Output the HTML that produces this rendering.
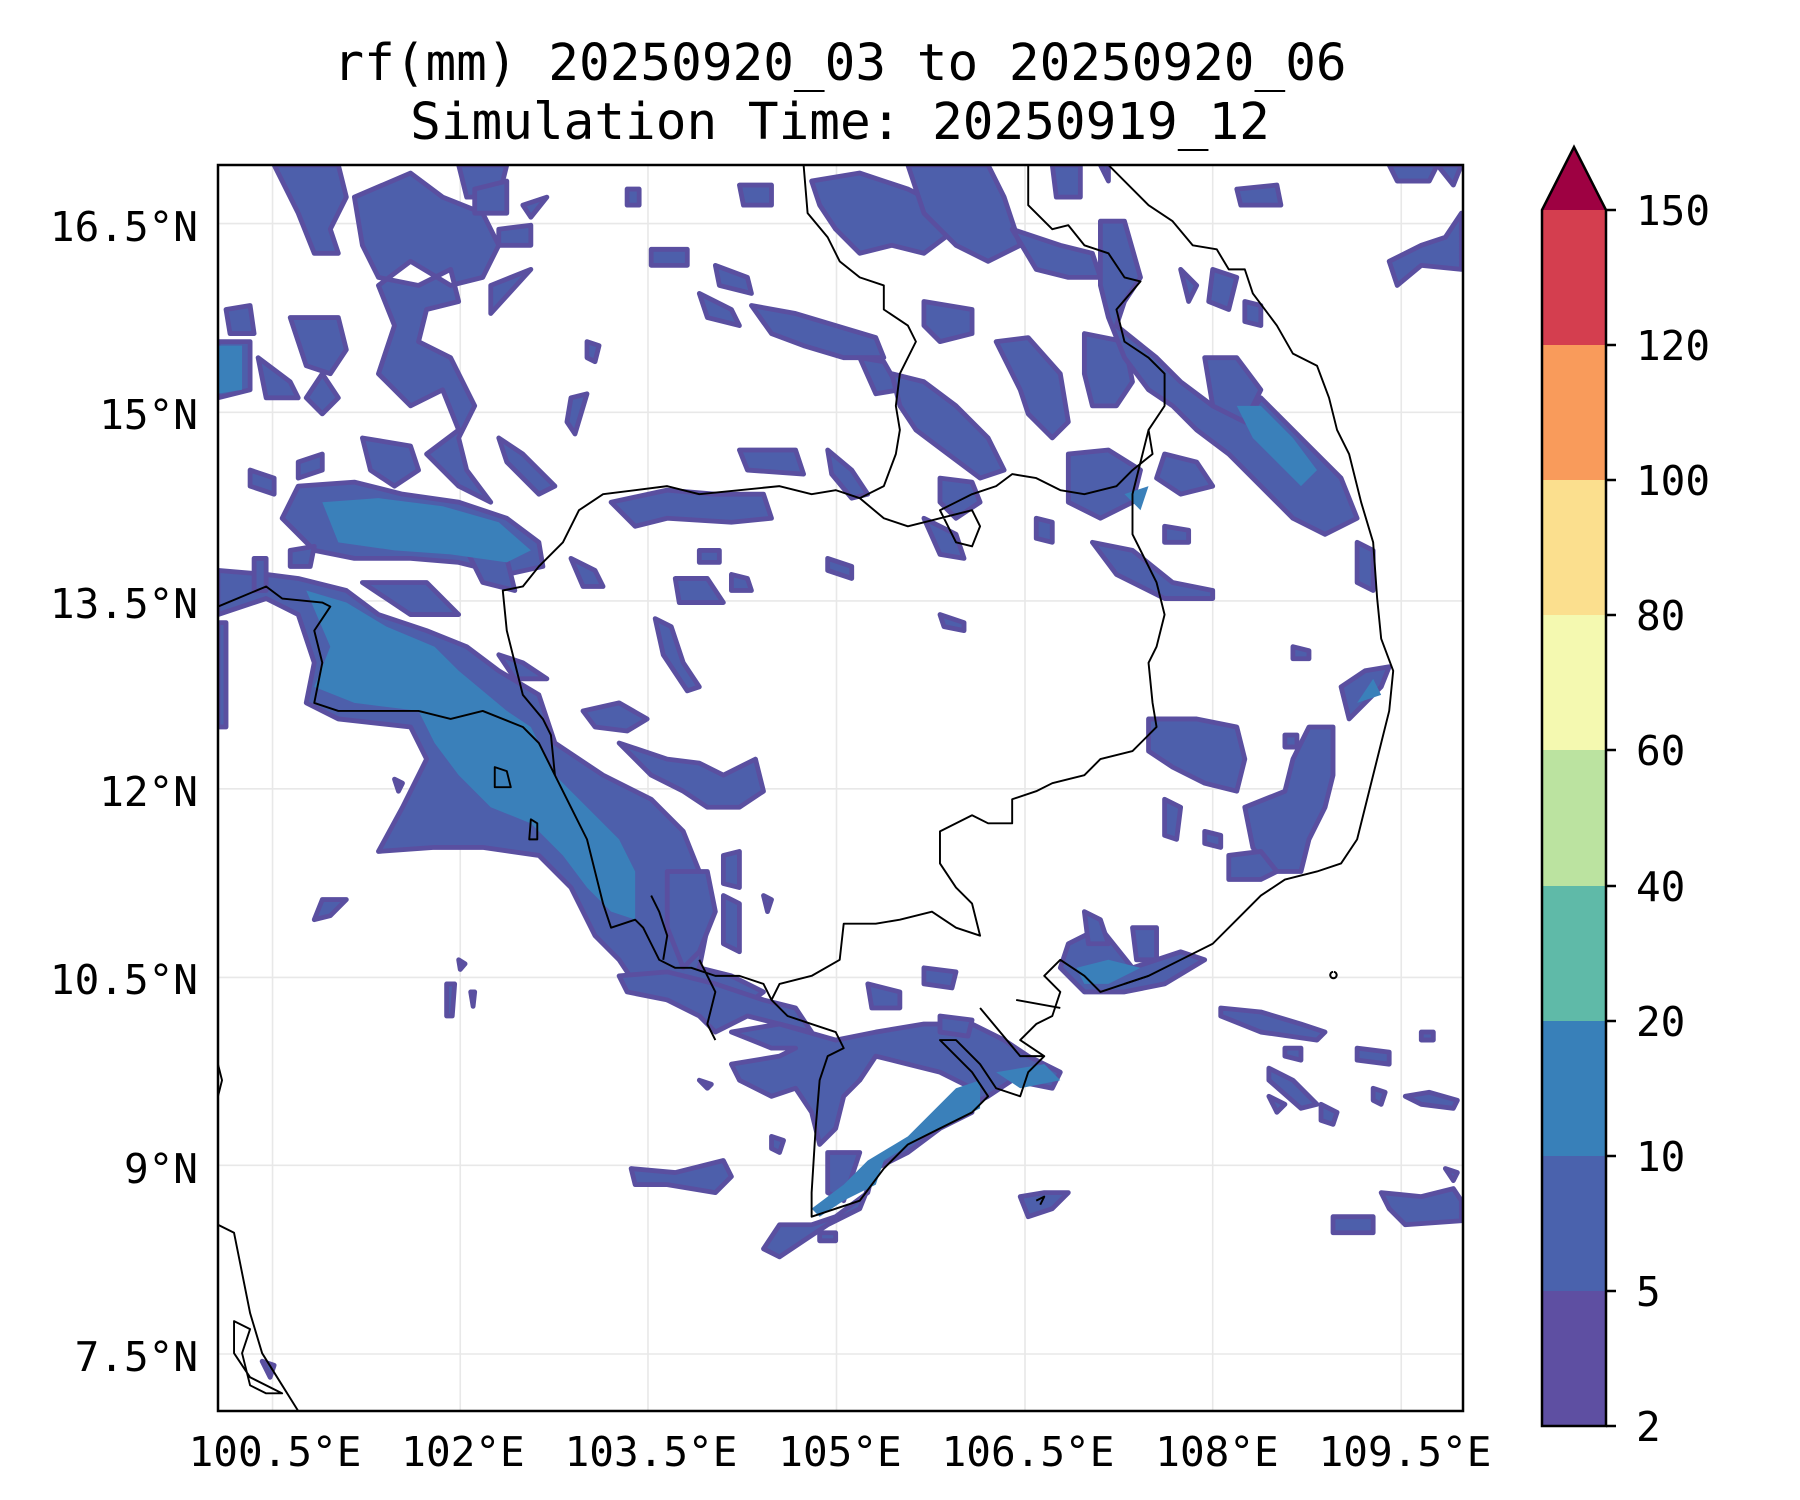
<!DOCTYPE html>
<html><head><meta charset="utf-8"><style>
html,body{margin:0;padding:0;background:#fff;}
svg{display:block;}
text{font-family:"DejaVu Sans Mono","Liberation Mono",monospace;fill:#000;}
</style></head><body>
<svg width="1800" height="1500" viewBox="0 0 1800 1500" xmlns="http://www.w3.org/2000/svg">
<text x="840" y="80" font-size="51" text-anchor="middle">rf(mm) 20250920_03 to 20250920_06</text>
<text x="840" y="139" font-size="51" text-anchor="middle">Simulation Time: 20250919_12</text>

<svg x="218" y="165" width="1245" height="1246" viewBox="0 0 1552 1552" preserveAspectRatio="none">
<g stroke="#e8e8e8" stroke-width="2">
<line x1="68" y1="0" x2="68" y2="1552"/><line x1="302" y1="0" x2="302" y2="1552"/><line x1="536" y1="0" x2="536" y2="1552"/><line x1="771" y1="0" x2="771" y2="1552"/><line x1="1006" y1="0" x2="1006" y2="1552"/><line x1="1240" y1="0" x2="1240" y2="1552"/><line x1="1475" y1="0" x2="1475" y2="1552"/>
<line x1="0" y1="73" x2="1552" y2="73"/><line x1="0" y1="308" x2="1552" y2="308"/><line x1="0" y1="543" x2="1552" y2="543"/><line x1="0" y1="777" x2="1552" y2="777"/><line x1="0" y1="1012" x2="1552" y2="1012"/><line x1="0" y1="1246" x2="1552" y2="1246"/><line x1="0" y1="1481" x2="1552" y2="1481"/>
</g>
<g fill="#4d5fab" stroke="#5a4fa0" stroke-width="6" stroke-linejoin="round">
<path d="M0,505 L60,510 L100,515 L160,530 L200,560 L260,580 L310,600 L350,630 L400,660 L420,720 L480,760 L540,790 L580,830 L600,880 L610,950 L600,1000 L640,1010 L680,1030 L640,1060 L600,1050 L560,1040 L520,1020 L500,990 L470,960 L440,900 L400,860 L330,850 L270,850 L200,855 L230,800 L260,740 L240,700 L150,690 L110,670 L120,620 L100,560 L60,540 L0,560 Z"/>
<path d="M100,400 L170,395 L230,410 L300,420 L360,440 L400,470 L405,500 L360,510 L300,495 L240,490 L170,490 L120,480 L80,440 Z"/>
<path d="M70,0 L150,0 L160,40 L140,80 L150,110 L120,110 L100,60 Z"/>
<path d="M170,40 L240,10 L280,40 L330,60 L350,100 L330,140 L290,150 L240,120 L200,150 L220,200 L200,260 L240,300 L280,280 L300,330 L260,360 L300,400 L340,420 L310,380 L300,340 L320,300 L290,240 L250,220 L260,180 L300,170 L290,130 L250,150 L200,140 L180,100 Z"/>
<path d="M300,0 L360,0 L350,40 L310,40 Z"/>
<path d="M320,30 L360,20 L360,60 L320,60 Z"/>
<path d="M0,220 L40,220 L40,280 L0,290 Z"/>
<path d="M10,180 L40,175 L45,210 L15,210 Z"/>
<path d="M90,190 L150,190 L160,230 L140,260 L110,250 L100,220 Z"/>
<path d="M50,240 L90,270 L100,290 L60,290 Z"/>
<path d="M130,260 L150,290 L130,310 L110,290 Z"/>
<path d="M180,340 L240,350 L250,380 L220,400 L190,380 Z"/>
<path d="M350,340 L380,360 L420,400 L400,410 L360,370 Z"/>
<path d="M40,380 L70,390 L70,410 L40,400 Z"/>
<path d="M100,370 L130,360 L130,380 L100,390 Z"/>
<path d="M340,150 L390,130 L340,185 Z"/>
<path d="M350,80 L390,75 L390,100 L350,100 Z"/>
<path d="M380,50 L410,40 L390,65 Z"/>
<path d="M440,290 L460,285 L445,335 L435,320 Z"/>
<path d="M460,220 L475,225 L470,245 L460,240 Z"/>
<path d="M510,30 L525,30 L525,50 L510,50 Z"/>
<path d="M310,480 L360,490 L370,530 L330,520 Z"/>
<path d="M180,520 L260,520 L300,560 L240,560 Z"/>
<path d="M45,490 L60,490 L60,530 L45,530 Z"/>
<path d="M0,570 L10,570 L10,700 L0,700 Z"/>
<path d="M90,480 L120,475 L115,500 L90,500 Z"/>
<path d="M540,105 L585,105 L585,125 L540,125 Z"/>
<path d="M620,125 L660,140 L665,160 L625,150 Z"/>
<path d="M650,25 L690,25 L690,50 L655,50 Z"/>
<path d="M600,160 L640,180 L650,200 L610,190 Z"/>
<path d="M665,175 L720,185 L770,200 L820,215 L830,240 L780,240 L730,225 L690,210 Z"/>
<path d="M650,355 L720,355 L730,385 L660,380 Z"/>
<path d="M490,420 L560,405 L620,410 L680,410 L690,440 L640,445 L560,440 L520,450 Z"/>
<path d="M760,355 L790,380 L810,410 L790,415 L765,385 Z"/>
<path d="M800,240 L830,245 L850,280 L820,285 Z"/>
<path d="M740,20 L800,10 L860,30 L900,50 L920,80 L880,110 L840,100 L800,110 L770,80 L750,50 Z"/>
<path d="M860,0 L960,0 L980,40 L1000,100 L960,120 L920,100 L880,60 Z"/>
<path d="M1040,0 L1075,0 L1075,40 L1045,40 Z"/>
<path d="M1100,0 L1110,0 L1110,20 Z"/>
<path d="M880,170 L940,180 L940,210 L900,220 L880,200 Z"/>
<path d="M840,260 L880,270 L920,300 L960,340 L980,380 L950,390 L910,360 L870,330 L850,300 Z"/>
<path d="M970,220 L1010,215 L1050,260 L1060,320 L1040,340 L1010,310 L1000,280 Z"/>
<path d="M990,80 L1050,100 L1090,110 L1100,140 L1060,140 L1020,130 Z"/>
<path d="M1080,210 L1130,220 L1140,270 L1120,300 L1090,300 L1080,260 Z"/>
<path d="M1100,70 L1130,70 L1150,140 L1130,170 L1120,200 L1170,240 L1200,270 L1240,300 L1280,320 L1300,290 L1330,320 L1370,360 L1400,390 L1420,440 L1380,460 L1340,440 L1300,400 L1260,360 L1220,330 L1190,300 L1160,280 L1130,240 L1110,190 L1100,150 Z"/>
<path d="M1230,240 L1270,240 L1300,280 L1280,320 L1240,300 Z"/>
<path d="M1270,30 L1320,25 L1325,50 L1275,50 Z"/>
<path d="M1240,130 L1270,140 L1260,180 L1235,170 Z"/>
<path d="M1280,170 L1300,175 L1300,200 L1280,195 Z"/>
<path d="M1200,130 L1220,150 L1210,170 Z"/>
<path d="M1060,360 L1110,355 L1150,380 L1140,420 L1100,440 L1060,420 Z"/>
<path d="M1180,360 L1220,370 L1240,400 L1200,410 L1170,390 Z"/>
<path d="M900,390 L940,395 L950,420 L920,440 L900,420 Z"/>
<path d="M880,440 L920,460 L930,490 L900,485 Z"/>
<path d="M1020,440 L1040,445 L1040,470 L1020,465 Z"/>
<path d="M1090,470 L1140,480 L1190,520 L1240,530 L1240,540 L1180,540 L1120,510 Z"/>
<path d="M1180,450 L1210,455 L1210,470 L1180,470 Z"/>
<path d="M1460,120 L1500,100 L1530,90 L1550,60 L1550,130 L1500,125 L1470,150 Z"/>
<path d="M1460,0 L1520,0 L1510,20 L1470,20 Z"/>
<path d="M1520,0 L1550,0 L1540,25 Z"/>
<path d="M1420,470 L1440,480 L1440,530 L1420,520 Z"/>
<path d="M570,515 L610,515 L630,545 L575,545 Z"/>
<path d="M545,565 L565,575 L580,620 L600,650 L585,655 L555,610 Z"/>
<path d="M455,680 L500,670 L535,690 L510,705 L470,700 Z"/>
<path d="M500,720 L560,740 L600,745 L630,760 L670,740 L680,780 L650,800 L610,800 L580,780 L540,760 Z"/>
<path d="M440,490 L470,505 L480,525 L455,525 Z"/>
<path d="M350,610 L380,620 L410,640 L370,640 Z"/>
<path d="M600,480 L625,480 L625,495 L600,495 Z"/>
<path d="M640,510 L660,515 L665,530 L640,530 Z"/>
<path d="M760,490 L790,500 L790,515 L760,505 Z"/>
<path d="M900,560 L930,570 L930,580 L905,575 Z"/>
<path d="M560,880 L610,880 L620,930 L600,980 L580,1000 L560,950 Z"/>
<path d="M630,860 L650,855 L650,900 L630,895 Z"/>
<path d="M630,910 L650,920 L650,980 L630,970 Z"/>
<path d="M680,910 L690,915 L685,930 Z"/>
<path d="M1160,690 L1220,690 L1270,700 L1280,740 L1270,780 L1230,770 L1190,750 L1160,730 Z"/>
<path d="M1340,600 L1360,605 L1360,615 L1340,615 Z"/>
<path d="M1400,650 L1430,630 L1460,625 L1450,650 L1410,690 Z"/>
<path d="M1330,710 L1345,710 L1345,725 L1330,725 Z"/>
<path d="M1360,700 L1390,700 L1390,760 L1380,800 L1360,840 L1350,880 L1310,880 L1290,850 L1280,800 L1330,780 L1340,740 Z"/>
<path d="M1180,790 L1200,800 L1195,840 L1180,835 Z"/>
<path d="M1230,830 L1250,835 L1250,850 L1230,845 Z"/>
<path d="M1260,860 L1300,855 L1320,880 L1300,890 L1260,890 Z"/>
<path d="M1140,950 L1170,950 L1170,990 L1145,990 Z"/>
<path d="M1060,970 L1100,950 L1140,1000 L1200,980 L1230,990 L1180,1020 L1130,1030 L1080,1030 L1050,1000 Z"/>
<path d="M1080,930 L1100,940 L1110,970 L1085,970 Z"/>
<path d="M1250,1050 L1300,1055 L1350,1070 L1380,1080 L1370,1090 L1300,1080 L1250,1060 Z"/>
<path d="M1310,1125 L1340,1140 L1370,1170 L1350,1175 L1310,1140 Z"/>
<path d="M1310,1160 L1330,1170 L1320,1180 Z"/>
<path d="M1375,1170 L1395,1180 L1390,1195 L1375,1190 Z"/>
<path d="M1420,1100 L1460,1105 L1460,1120 L1420,1115 Z"/>
<path d="M1330,1100 L1350,1100 L1350,1115 L1330,1110 Z"/>
<path d="M1440,1150 L1455,1155 L1450,1170 L1440,1165 Z"/>
<path d="M1480,1160 L1510,1155 L1545,1165 L1540,1175 L1500,1170 Z"/>
<path d="M1500,1080 L1515,1080 L1515,1090 L1500,1090 Z"/>
<path d="M1450,1280 L1500,1285 L1540,1275 L1550,1290 L1550,1315 L1480,1320 L1460,1300 Z"/>
<path d="M1390,1310 L1440,1310 L1440,1330 L1390,1330 Z"/>
<path d="M1530,1250 L1545,1255 L1540,1265 Z"/>
<path d="M500,1010 L560,1005 L620,1020 L680,1040 L720,1050 L740,1080 L700,1070 L660,1060 L620,1080 L600,1060 L560,1040 L510,1030 Z"/>
<path d="M640,1080 L700,1070 L770,1090 L820,1080 L880,1070 L940,1070 L980,1090 L1010,1110 L1050,1130 L1040,1150 L990,1140 L960,1160 L920,1180 L870,1210 L820,1240 L810,1280 L770,1310 L740,1320 L700,1320 L680,1350 L700,1360 L730,1340 L760,1320 L800,1300 L820,1250 L860,1230 L900,1200 L940,1180 L940,1150 L900,1130 L860,1120 L820,1110 L800,1140 L780,1160 L770,1200 L750,1220 L740,1180 L720,1150 L690,1160 L650,1140 L640,1120 L700,1110 L720,1100 L690,1100 Z"/>
<path d="M760,1230 L800,1230 L780,1290 L760,1280 Z"/>
<path d="M810,1020 L850,1030 L850,1050 L815,1050 Z"/>
<path d="M880,1000 L920,1005 L915,1025 L880,1020 Z"/>
<path d="M900,1060 L940,1065 L935,1085 L900,1080 Z"/>
<path d="M515,1250 L570,1255 L630,1240 L640,1260 L620,1280 L560,1270 L520,1270 Z"/>
<path d="M690,1210 L705,1215 L700,1230 L690,1225 Z"/>
<path d="M1000,1285 L1030,1280 L1060,1280 L1040,1300 L1010,1310 Z"/>
<path d="M750,1330 L770,1330 L770,1340 L750,1340 Z"/>
<path d="M130,915 L160,915 L140,935 L120,940 Z"/>
<path d="M220,765 L230,770 L225,780 Z"/>
<path d="M285,1020 L295,1020 L292,1060 L285,1060 Z"/>
<path d="M315,1030 L320,1030 L318,1048 Z"/>
<path d="M300,990 L308,995 L302,1002 Z"/>
<path d="M600,1140 L615,1145 L610,1150 Z"/>
<path d="M55,1490 L70,1495 L65,1510 Z"/>
</g>
<g fill="#3a80ba">
<path d="M130,420 L200,415 L280,425 L350,445 L390,480 L360,495 L290,485 L220,480 L150,470 Z"/>
<path d="M110,530 L160,545 L210,575 L270,600 L300,630 L360,680 L390,700 L420,760 L460,800 L500,840 L520,880 L520,940 L490,930 L460,900 L430,860 L390,820 L340,800 L300,760 L270,720 L250,680 L170,670 L120,650 L140,600 Z"/>
<path d="M0,225 L30,225 L30,280 L0,285 Z"/>
<path d="M1270,300 L1300,300 L1340,340 L1370,380 L1350,400 L1320,370 L1290,340 Z"/>
<path d="M1070,1000 L1110,990 L1150,1000 L1110,1020 L1080,1020 Z"/>
<path d="M920,1150 L950,1140 L950,1175 L880,1210 L830,1240 L820,1270 L780,1290 L750,1310 L740,1300 L780,1270 L810,1240 L860,1210 Z"/>
<path d="M970,1130 L1030,1120 L1050,1140 L1000,1150 Z"/>
<path d="M1450,660 L1440,640 L1420,670 Z"/>
<path d="M1130,410 L1160,400 L1150,430 Z"/>
</g>
<g fill="none" stroke="#000" stroke-width="2.4" stroke-linejoin="round">
<path d="M1110,0 L1160,50 L1190,70 L1215,100 L1245,105 L1260,130 L1280,130 L1290,160 L1320,200 L1340,235 L1370,250 L1385,290 L1395,330 L1410,360 L1425,420 L1440,470 L1445,540 L1450,590 L1465,630 L1460,680 L1450,720 L1440,760 L1430,800 L1420,840 L1400,870 L1370,880 L1330,890 L1300,910 L1270,940 L1240,970 L1200,990 L1160,1010 L1100,1030 L1080,1010 L1050,990 L1030,1010 L1050,1030 L1040,1060 L1020,1070 L1000,1090 L1030,1110 L1010,1130 L1000,1160 L970,1150 L950,1120 L920,1090 L900,1090 L940,1130 L960,1160 L940,1180 L900,1200 L860,1220 L830,1250 L800,1290 L770,1300 L740,1310 L740,1280 L745,1200 L750,1140 L760,1110 L780,1100 L770,1080 L740,1070 L710,1060 L690,1040 L680,1020 L650,1010 L620,1010 L590,1000 L570,1000 L550,990 L540,970 L530,950 L520,940 L490,950 L480,920 L470,880 L460,840 L440,800 L420,760 L400,720 L380,700 L330,680 L290,690 L250,680 L210,680 L150,680 L120,670 L130,620 L120,580 L140,550 L130,545 L80,540 L60,525 L0,550"/>
<path d="M1160,1010 L1130,1020"/>
<path d="M950,1050 L1000,1110 L1030,1110"/>
<path d="M995,1040 L1050,1050"/>
<path d="M0,1320 L20,1330 L30,1380 L40,1430 L55,1480 L80,1520 L100,1552"/>
<path d="M20,1440 L40,1450 L30,1480 L40,1520 L60,1530 L80,1530 L40,1510 L20,1480 Z"/>
<path d="M0,1120 L5,1140 L0,1160"/>
<path d="M1390,1005 a4,4 0 1,0 1,0"/>
<path d="M1020,1290 L1030,1285 L1025,1295"/>
<path d="M345,750 L360,755 L365,775 L345,775 Z"/>
<path d="M390,815 L398,820 L398,840 L388,840 Z"/>
<path d="M730,0 L735,60 L760,90 L775,120 L800,140 L830,150 L830,180 L860,200 L870,220 L850,260 L845,300 L850,330 L845,360 L830,400 L800,415 L770,405 L740,410 L700,400 L650,405 L600,410 L560,400 L520,405 L480,410 L450,430 L430,470 L400,500 L380,525 L355,530 L360,580 L370,620 L380,660 L405,690 L415,710 L420,760"/>
<path d="M1010,0 L1010,50 L1040,80 L1060,75 L1080,100 L1110,110 L1130,140 L1150,145 L1120,180 L1130,220 L1160,240 L1180,260 L1180,300 L1160,330 L1165,360 L1140,380 L1120,400 L1080,410 L1050,405 L1020,390 L990,385 L970,400 L940,410 L920,420 L900,430 L920,470 L940,475 L950,450 L940,430 L880,445 L860,450 L830,440 L800,415"/>
<path d="M1160,330 L1140,410 L1140,460 L1170,520 L1180,560 L1170,600 L1160,620 L1165,670 L1170,700 L1140,730 L1100,740 L1080,760 L1040,770 L1020,780 L990,790 L990,820 L960,820 L940,810 L900,830 L900,870 L920,900 L940,920 L950,960 L920,950 L890,930 L850,940 L820,945 L780,945 L775,990 L740,1010 L700,1020 L690,1040"/>
<path d="M600,990 L610,1010 L620,1030 L610,1070 L620,1090"/>
<path d="M540,910 L550,930 L560,960 L555,990"/>
</g>
</svg>
<rect x="218" y="165" width="1245" height="1246" fill="none" stroke="#000" stroke-width="2.5"/>

<g font-size="41" text-anchor="middle">
<text x="275" y="1466">100.5°E</text><text x="463" y="1466">102°E</text><text x="651" y="1466">103.5°E</text><text x="840" y="1466">105°E</text><text x="1028" y="1466">106.5°E</text><text x="1217" y="1466">108°E</text><text x="1405" y="1466">109.5°E</text>
</g>
<g font-size="41" text-anchor="end">
<text x="198" y="241">16.5°N</text><text x="198" y="429">15°N</text><text x="198" y="618">13.5°N</text><text x="198" y="806">12°N</text><text x="198" y="994">10.5°N</text><text x="198" y="1183">9°N</text><text x="198" y="1371">7.5°N</text>
</g>

<g stroke="none">
<rect x="1542" y="1291" width="64" height="135" fill="#5e4fa2"/>
<rect x="1542" y="1156" width="64" height="135" fill="#4a62ad"/>
<rect x="1542" y="1021" width="64" height="135" fill="#3880b9"/>
<rect x="1542" y="886" width="64" height="135" fill="#5fbaa8"/>
<rect x="1542" y="750" width="64" height="136" fill="#bbe3a0"/>
<rect x="1542" y="615" width="64" height="135" fill="#f4f9b0"/>
<rect x="1542" y="480" width="64" height="135" fill="#fbdf8e"/>
<rect x="1542" y="345" width="64" height="135" fill="#f99b5b"/>
<rect x="1542" y="210" width="64" height="135" fill="#d43e4f"/>
<path d="M1542,210 L1574,147 L1606,210 Z" fill="#9e0142"/>
</g>
<path d="M1542,210 L1574,147 L1606,210 L1606,1426 L1542,1426 Z" fill="none" stroke="#000" stroke-width="2.5"/>
<g stroke="#000" stroke-width="2.5">
<line x1="1606" y1="210" x2="1616" y2="210"/><line x1="1606" y1="345" x2="1616" y2="345"/><line x1="1606" y1="480" x2="1616" y2="480"/><line x1="1606" y1="615" x2="1616" y2="615"/><line x1="1606" y1="750" x2="1616" y2="750"/><line x1="1606" y1="886" x2="1616" y2="886"/><line x1="1606" y1="1021" x2="1616" y2="1021"/><line x1="1606" y1="1156" x2="1616" y2="1156"/><line x1="1606" y1="1291" x2="1616" y2="1291"/><line x1="1606" y1="1426" x2="1616" y2="1426"/>
</g>
<g font-size="41">
<text x="1636" y="225">150</text><text x="1636" y="360">120</text><text x="1636" y="495">100</text><text x="1636" y="630">80</text><text x="1636" y="765">60</text><text x="1636" y="901">40</text><text x="1636" y="1036">20</text><text x="1636" y="1171">10</text><text x="1636" y="1306">5</text><text x="1636" y="1441">2</text>
</g>
</svg>
</body></html>
